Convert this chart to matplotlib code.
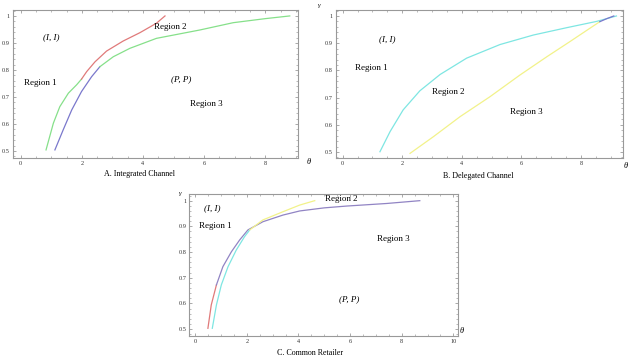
import matplotlib
matplotlib.use("Agg")
import matplotlib.pyplot as plt
from matplotlib.ticker import MultipleLocator

plt.rcParams["font.family"] = ["Liberation Serif", "DejaVu Serif"]

# Panel A: integrated channel boundaries (theta, gamma)
a_left_low_x = [0.83, 1.07, 1.28, 1.56, 1.83, 1.99]
a_left_low_y = [0.504, 0.603, 0.664, 0.714, 0.745, 0.766]
a_left_up_x = [1.99, 2.16, 2.43, 2.81, 3.35, 3.9, 4.44, 4.72]
a_left_up_y = [0.766, 0.794, 0.830, 0.870, 0.907, 0.938, 0.973, 1.000]
a_right_low_x = [1.12, 1.39, 1.67, 1.99, 2.32, 2.59]
a_right_low_y = [0.504, 0.578, 0.652, 0.720, 0.775, 0.812]
a_right_up_x = [2.59, 3.03, 3.57, 4.44, 5.86, 6.95, 8.0, 8.8]
a_right_up_y = [0.812, 0.849, 0.880, 0.917, 0.948, 0.975, 0.990, 1.000]

# Panel B: delegated channel boundaries
b_cyan_x = [1.25, 1.59, 2.03, 2.59, 3.27, 4.16, 5.28, 6.4, 7.52, 8.52, 9.19]
b_cyan_y = [0.501, 0.575, 0.655, 0.725, 0.785, 0.845, 0.895, 0.930, 0.957, 0.980, 1.000]
b_yellow_x = [2.26, 3.04, 3.94, 4.94, 5.95, 6.85, 7.63, 8.3, 8.63]
b_yellow_y = [0.495, 0.556, 0.630, 0.703, 0.783, 0.850, 0.906, 0.955, 0.979]
b_blue_x = [8.63, 8.86, 9.1]
b_blue_y = [0.979, 0.990, 1.000]

# Panel C: common retailer boundaries
c_red_x = [0.49, 0.62, 0.82]
c_red_y = [0.503, 0.594, 0.672]
c_purple_x = [0.82, 1.07, 1.4, 1.72, 2.04, 2.62, 3.4, 4.05, 5.0, 5.86, 7.41, 8.7]
c_purple_y = [0.672, 0.743, 0.801, 0.847, 0.886, 0.918, 0.944, 0.960, 0.972, 0.979, 0.989, 1.000]
c_cyan_x = [0.66, 0.82, 1.01, 1.27, 1.59, 1.91, 2.11]
c_cyan_y = [0.503, 0.594, 0.672, 0.743, 0.808, 0.860, 0.886]
c_yellow_x = [2.11, 2.62, 3.4, 4.05, 4.63]
c_yellow_y = [0.886, 0.925, 0.957, 0.983, 1.000]

GREEN = "#86e08a"
RED = "#e07a7a"
BLUE = "#7a78cc"
CYAN = "#7ee6e2"
YELLOW = "#f2f28a"
PURPLE = "#9184c4"
LW = 0.9
TXT = 6.5


def style_axes(ax, xlim, ylim):
    ax.set_xlim(*xlim)
    ax.set_ylim(*ylim)
    ax.xaxis.set_major_locator(MultipleLocator(2))
    ax.xaxis.set_minor_locator(MultipleLocator(0.5))
    ax.yaxis.set_major_locator(MultipleLocator(0.1))
    ax.yaxis.set_minor_locator(MultipleLocator(0.02))
    ax.tick_params(which="both", direction="in", top=True, right=True,
                   colors="#888888", labelcolor="#333333", labelsize=4.5, pad=2)
    ax.tick_params(which="major", length=2.5, width=0.5)
    ax.tick_params(which="minor", length=1.2, width=0.4)
    ax.xaxis.set_major_formatter(plt.FuncFormatter(lambda v, p: f"{v:g}"))
    ax.yaxis.set_major_formatter(plt.FuncFormatter(lambda v, p: f"{v:g}"))
    for s in ax.spines.values():
        s.set_color("#999999")
        s.set_linewidth(0.8)


fig = plt.figure(figsize=(6.29, 3.57), dpi=100)

# A
ax = fig.add_axes([0.0202, 0.5574, 0.4536, 0.4146])
style_axes(ax, (-0.26, 9.07), (0.474, 1.022))
ax.plot(a_left_low_x, a_left_low_y, color=GREEN, lw=LW)
ax.plot(a_left_up_x, a_left_up_y, color=RED, lw=LW)
ax.plot(a_right_low_x, a_right_low_y, color=BLUE, lw=LW)
ax.plot(a_right_up_x, a_right_up_y, color=GREEN, lw=LW)
ax.text(0.99, 0.92, "(I, I)", style="italic", fontsize=TXT, ha="center", va="center")
ax.text(0.63, 0.75, "Region 1", fontsize=TXT, ha="center", va="center")
ax.text(4.88, 0.958, "Region 2", fontsize=TXT, ha="center", va="center")
ax.text(5.26, 0.767, "(P, P)", style="italic", fontsize=TXT, ha="center", va="center")
ax.text(6.08, 0.674, "Region 3", fontsize=TXT, ha="center", va="center")

# B
ax = fig.add_axes([0.5337, 0.5574, 0.4568, 0.4146])
style_axes(ax, (-0.235, 9.41), (0.478, 1.022))
ax.plot(b_cyan_x, b_cyan_y, color=CYAN, lw=LW)
ax.plot(b_yellow_x, b_yellow_y, color=YELLOW, lw=LW)
ax.plot(b_blue_x, b_blue_y, color=BLUE, lw=LW)
ax.text(1.48, 0.915, "(I, I)", style="italic", fontsize=TXT, ha="center", va="center")
ax.text(0.97, 0.81, "Region 1", fontsize=TXT, ha="center", va="center")
ax.text(3.54, 0.72, "Region 2", fontsize=TXT, ha="center", va="center")
ax.text(6.17, 0.646, "Region 3", fontsize=TXT, ha="center", va="center")

# C
ax = fig.add_axes([0.301, 0.0588, 0.4267, 0.3978])
style_axes(ax, (-0.23, 10.17), (0.473, 1.026))
ax.plot(c_red_x, c_red_y, color=RED, lw=LW)
ax.plot(c_purple_x, c_purple_y, color=PURPLE, lw=LW)
ax.plot(c_cyan_x, c_cyan_y, color=CYAN, lw=LW)
ax.plot(c_yellow_x, c_yellow_y, color=YELLOW, lw=LW)
ax.text(0.65, 0.97, "(I, I)", style="italic", fontsize=TXT, ha="center", va="center")
ax.text(0.79, 0.903, "Region 1", fontsize=TXT, ha="center", va="center")
ax.text(5.64, 1.005, "Region 2", fontsize=TXT, ha="center", va="center")
ax.text(7.67, 0.851, "Region 3", fontsize=TXT, ha="center", va="center")
ax.text(5.96, 0.617, "(P, P)", style="italic", fontsize=TXT, ha="center", va="center")

# captions and axis symbols
W, H = 629, 357
fig.text(140 / W, 1 - 174 / H, "A. Integrated Channel", fontsize=5.8, ha="center", va="center")
fig.text(478 / W, 1 - 176 / H, "B. Delegated Channel", fontsize=5.8, ha="center", va="center")
fig.text(310 / W, 1 - 353 / H, "C. Common Retailer", fontsize=5.8, ha="center", va="center")
for x, y in [(309, 162), (626, 166), (462, 331)]:
    fig.text(x / W, 1 - y / H, "θ", style="italic", fontsize=6, ha="center", va="center")
for x, y in [(319, 6), (180, 194)]:
    fig.text(x / W, 1 - y / H, "γ", style="italic", fontsize=5, ha="center", va="center")

fig.savefig("out.png", dpi=100)
